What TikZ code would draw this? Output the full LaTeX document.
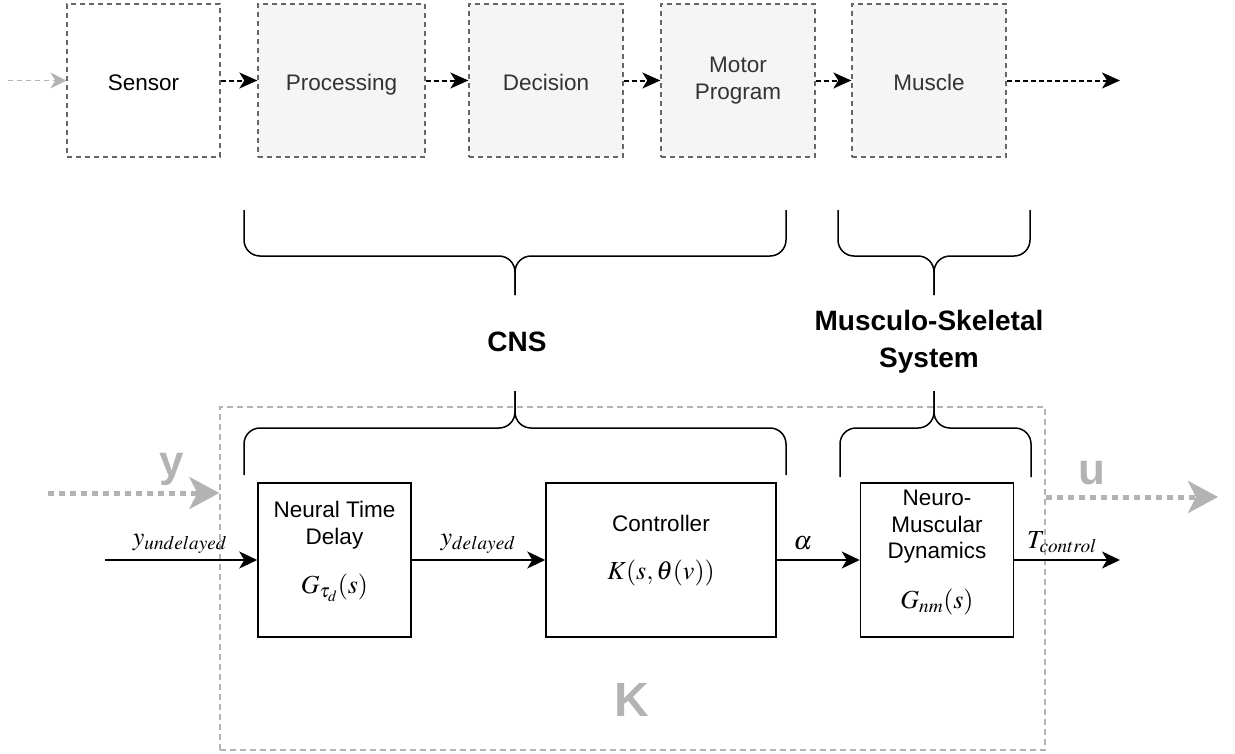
\documentclass[tikz,border=0pt]{standalone}
\usepackage{mathptmx}
\usepackage[no-math]{fontspec}
\setmainfont{Liberation Sans}
\usetikzlibrary{arrows.meta}
\definecolor{boxfill}{HTML}{F5F5F5}
\definecolor{boxline}{HTML}{666666}
\definecolor{boxtext}{HTML}{333333}
\definecolor{lightline}{HTML}{B3B3B3}

\begin{document}
\begin{tikzpicture}[x=1pt,y=-1pt,
  stagebox/.style={draw=boxline, fill=boxfill, line width=1.3pt,
    dash pattern=on 5pt off 4pt, minimum height=153pt, inner sep=0pt,
    text=boxtext, font=\fontsize{22.5}{27}\selectfont, align=center},
  oneline/.style={text height=19pt, text depth=0pt},
  blockbox/.style={draw=black, fill=white, line width=1.5pt,
    minimum height=154pt, inner sep=0pt},
  kframe/.style={draw=lightline, line width=1.3pt, dash pattern=on 6pt off 4pt,
    inner sep=0pt},
  plain/.style={font=\fontsize{22.5}{26.5}\selectfont, align=center, inner sep=0pt},
  mathlbl/.style={font=\fontsize{26}{30}\selectfont, inner sep=0pt},
  boldlbl/.style={font=\fontsize{28}{37}\selectfont\bfseries, align=center, inner sep=0pt},
  biglbl/.style={text=lightline, inner sep=0pt},
  flow/.style={line width=1.5pt, -{Stealth[length=18pt,width=17pt,inset=5pt]}},
  dflow/.style={line width=2pt, dash pattern=on 5pt off 3pt,
    -{Stealth[length=18pt,width=16pt,inset=5pt]}},
  feed/.style={draw=lightline, line width=1.2pt, dash pattern=on 5pt off 4pt,
    -{Stealth[length=16pt,width=16pt,inset=5pt]}},
  bigflow/.style={draw=lightline, line width=5pt, dash pattern=on 6pt off 5pt,
    -{Stealth[length=30pt,width=32pt,inset=8pt]}},
  brace/.style={line width=1.5pt, rounded corners=16pt},
]
\useasboundingbox (0,0) rectangle (1235,753);

% outer controller frame K
\node[kframe, minimum width=825pt, minimum height=343pt] (kbox) at (632.5,578.5) {};
\node[biglbl, font=\fontsize{48}{52}\selectfont\bfseries] (klbl) at (632,700) {K};

% stages of the human control loop
\node[stagebox, oneline, fill=white, text=black, minimum width=153pt] (sensor) at (143.5,80.5) {Sensor};
\node[stagebox, oneline, minimum width=167pt] (proc) at (341.5,80.5) {Processing};
\node[stagebox, oneline, minimum width=154pt] (decision) at (546,80.5) {Decision};
\node[stagebox, minimum width=154pt] (motor) at (738,80.5) {Motor\\Program};
\node[stagebox, oneline, minimum width=154pt] (muscle) at (929,80.5) {Muscle};

\coordinate (src) at (8,80.5);
\coordinate (sink) at (1120,80.5);
\draw[feed] (src) -- (sensor);
\draw[dflow] (sensor) -- (proc);
\draw[dflow] (proc) -- (decision);
\draw[dflow] (decision) -- (motor);
\draw[dflow] (motor) -- (muscle);
\draw[dflow] (muscle) -- (sink);

% braces grouping the stages
\draw[brace] (244,210) -- (244,256) -- (515,256) -- (515,295);
\draw[brace] (786,210) -- (786,256) -- (515,256) -- (515,295);
\draw[brace] (838,210) -- (838,256) -- (934,256) -- (934,295);
\draw[brace] (1030,210) -- (1030,256) -- (934,256) -- (934,295);

\node[boldlbl] (cns) at (517,342) {CNS};
\node[boldlbl] (mss) at (929,342) {Musculo-Skeletal\\System};

\draw[brace] (244,475) -- (244,428) -- (515,428) -- (515,391);
\draw[brace] (786,475) -- (786,428) -- (515,428) -- (515,391);
\draw[brace] (840,477) -- (840,428) -- (934,428) -- (934,391);
\draw[brace] (1031,477) -- (1031,428) -- (934,428) -- (934,391);

% block diagram of the controller
\node[blockbox, minimum width=153pt] (ntd) at (334.5,560) {};
\node[blockbox, minimum width=230pt] (ctrl) at (661,560) {};
\node[blockbox, minimum width=153pt] (nmd) at (937,560) {};

\node[plain] (ntdtxt) at (334.5,525) {Neural Time\\Delay};
\node[mathlbl] (ntdtf) at (334.5,588) {$G_{\tau_d}(s)$};
\node[plain] (ctrltxt) at (661,523) {Controller};
\node[mathlbl] (ctrltf) at (661,573) {$K(s,\theta(v))$};
\node[plain] (nmdtxt) at (937,527) {Neuro-\\Muscular\\Dynamics};
\node[mathlbl] (nmdtf) at (937,602) {$G_{nm}(s)$};

\coordinate (yin) at (105,560);
\coordinate (tout) at (1120,560);
\draw[flow] (yin) -- (ntd);
\draw[flow] (ntd) -- (ctrl);
\draw[flow] (ctrl) -- (nmd);
\draw[flow] (nmd) -- (tout);

\node[mathlbl] (lundel) at (180,544) {$y_{undelayed}$};
\node[mathlbl] (ldel) at (478,544) {$y_{delayed}$};
\node[mathlbl] (lalpha) at (803,543.5) {$\alpha$};
\node[mathlbl] (ltc) at (1062,542) {$T_{control}$};

% measured output and control input of K
\coordinate (yfrom) at (48,493);
\coordinate (uto) at (1218,497);
\draw[bigflow] (yfrom) -- (kbox.west |- yfrom);
\draw[bigflow] (kbox.east |- uto) -- (uto);
\node[biglbl, font=\fontsize{44}{50}\selectfont\bfseries] (ylbl) at (172,469) {y};
\node[biglbl, font=\fontsize{44}{50}\selectfont\bfseries] (ulbl) at (1092,473.5) {u};
\end{tikzpicture}
\end{document}
